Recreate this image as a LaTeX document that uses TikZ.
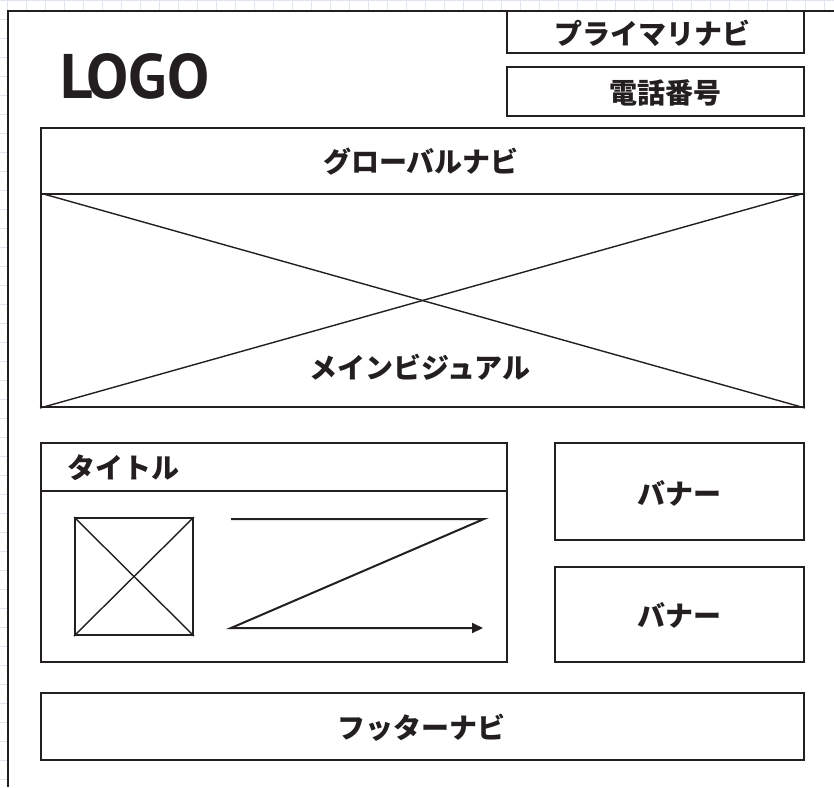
\documentclass[tikz,border=0pt]{standalone}
\usepackage{fontspec}
\newfontfamily\jpfont{Noto Sans CJK JP}[BoldFont={Noto Sans CJK JP Black}]
\newfontfamily\logofont{PT Sans}
\usetikzlibrary{arrows.meta}

\definecolor{gridline}{RGB}{222,229,238}
\definecolor{ink}{RGB}{35,31,32}

\tikzset{
  wire/.style={draw=ink, line width=2pt, inner sep=0pt},
  jptext/.style={font=\jpfont\bfseries\fontsize{28}{28}\selectfont, text=ink, inner sep=0pt},
  cross/.style={draw=ink, line width=1.4pt},
}

\begin{document}
\begin{tikzpicture}[x=1pt, y=-1pt]
  \useasboundingbox (0,0) rectangle (834,787);

  % grid behind the page
  \foreach \gx in {7.7,26.7,...,834} \draw[gridline, line width=0.8pt] (\gx,0) -- (\gx,787);
  \foreach \gy in {0.5,19.5,...,787} \draw[gridline, line width=0.8pt] (0,\gy) -- (834,\gy);
  \fill[white] (8,11) rectangle (834,787);
  \draw[ink, line width=2pt] (834,11) -- (8,11) -- (8,787);

  % header
  \node[text=ink, inner sep=0pt, anchor=west] (logo) at (60,76) {\logofont\bfseries\fontsize{63}{63}\selectfont LOGO};
  \node[wire, minimum width=297pt, minimum height=42pt] (prim) at (655.5,32) {};
  \node[jptext] (primtext) at (652,33) {プライマリナビ};
  \node[wire, minimum width=297pt, minimum height=49pt] (tel) at (655.5,91.5) {};
  \node[jptext] (teltext) at (665,93) {電話番号};

  % global nav + main visual
  \node[wire, minimum width=763pt, minimum height=66pt] (gnav) at (422.5,161) {};
  \node[jptext] (gnavtext) at (421,162) {グローバルナビ};
  \node[wire, minimum width=763pt, minimum height=213pt] (mv) at (422.5,300.5) {};
  \draw[cross] (mv.north west) -- (mv.south east);
  \draw[cross] (mv.south west) -- (mv.north east);
  \node[jptext] (mvtext) at (420,367) {メインビジュアル};

  % title panel
  \node[wire, minimum width=466pt, minimum height=48pt] (title) at (274,467) {};
  \node[jptext, anchor=west] (titletext) at (67,468) {タイトル};
  \node[wire, minimum width=466pt, minimum height=171pt] (body) at (274,576.5) {};
  \node[wire, minimum width=118pt, minimum height=117pt] (img) at (134,576.5) {};
  \draw[cross] (img.north west) -- (img.south east);
  \draw[cross] (img.south west) -- (img.north east);
  \coordinate (za) at (231,519);
  \coordinate (zb) at (484,519);
  \coordinate (zc) at (231,628);
  \coordinate (zd) at (483,628);
  \draw[ink, line width=2pt, -{Triangle[length=11pt,width=10pt]}] (za) -- (zb) -- (zc) -- (zd);

  % banners
  \node[wire, minimum width=249pt, minimum height=97pt] (ban1) at (679.5,491.5) {};
  \node[jptext] (ban1text) at (679,493) {バナー};
  \node[wire, minimum width=249pt, minimum height=95pt] (ban2) at (679.5,614.5) {};
  \node[jptext] (ban2text) at (679,615) {バナー};

  % footer
  \node[wire, minimum width=763pt, minimum height=67pt] (foot) at (422.5,726.5) {};
  \node[jptext] (foottext) at (421,728) {フッターナビ};
\end{tikzpicture}
\end{document}
